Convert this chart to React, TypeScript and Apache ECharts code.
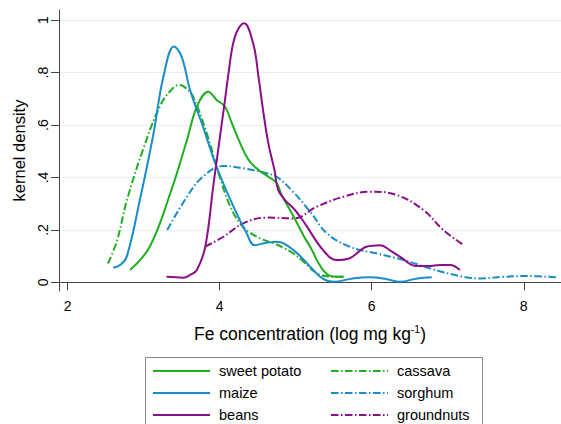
import React, { useEffect, useRef } from "react";
import * as echarts from "echarts";

const xTicks = [2, 4, 6, 8];
const yTicks = [0, 0.2, 0.4, 0.6, 0.8, 1];

const sweetPotato = [
  [2.82, 0.047], [3.08, 0.136], [3.35, 0.34], [3.57, 0.543], [3.7, 0.67], [3.85, 0.727],
  [3.96, 0.696], [4.07, 0.67], [4.16, 0.607], [4.27, 0.53], [4.38, 0.467], [4.51, 0.429],
  [4.64, 0.403], [4.75, 0.378], [4.82, 0.33], [4.95, 0.263], [5.1, 0.18], [5.19, 0.136],
  [5.36, 0.047], [5.5, 0.022], [5.63, 0.021],
];
const maize = [
  [2.6, 0.056], [2.7, 0.068], [2.78, 0.1], [2.95, 0.314], [3.13, 0.569], [3.26, 0.785],
  [3.4, 0.9], [3.5, 0.86], [3.61, 0.734], [3.78, 0.594], [3.96, 0.44], [4.18, 0.29],
  [4.35, 0.19], [4.46, 0.142], [4.6, 0.15], [4.75, 0.155], [4.97, 0.123], [5.19, 0.06],
  [5.35, 0.015], [5.5, 0.002], [5.75, 0.015], [5.98, 0.019], [6.2, 0.012], [6.37, 0.002],
  [6.6, 0.015], [6.79, 0.019],
];
const beans = [
  [3.3, 0.021], [3.52, 0.018], [3.62, 0.03], [3.7, 0.047], [3.81, 0.136], [3.92, 0.378],
  [4.07, 0.696], [4.11, 0.785], [4.2, 0.937], [4.32, 0.988], [4.44, 0.912], [4.51, 0.785],
  [4.57, 0.658], [4.64, 0.53], [4.72, 0.429], [4.77, 0.352], [4.86, 0.314], [4.99, 0.276],
  [5.12, 0.225], [5.36, 0.123], [5.54, 0.085], [5.71, 0.092], [5.93, 0.136], [6.11, 0.142],
  [6.25, 0.12], [6.37, 0.098], [6.59, 0.062], [6.75, 0.062], [6.9, 0.066], [7.03, 0.066],
  [7.16, 0.047],
];
const cassava = [
  [2.53, 0.072], [2.65, 0.16], [2.78, 0.314], [2.99, 0.505], [3.21, 0.67], [3.35, 0.73],
  [3.47, 0.753], [3.56, 0.74], [3.65, 0.708], [3.83, 0.569], [4.0, 0.403], [4.14, 0.289],
  [4.28, 0.22], [4.4, 0.19], [4.55, 0.165], [4.71, 0.149], [4.85, 0.13], [4.97, 0.11],
  [5.1, 0.08], [5.28, 0.034], [5.45, 0.022], [5.63, 0.021],
];
const sorghum = [
  [3.31, 0.2], [3.57, 0.327], [3.78, 0.403], [4.05, 0.444], [4.31, 0.435], [4.62, 0.416],
  [4.75, 0.403], [4.95, 0.35], [5.19, 0.27], [5.41, 0.187], [5.71, 0.136], [6.07, 0.11],
  [6.42, 0.085], [6.77, 0.053], [7.16, 0.024], [7.43, 0.015], [7.73, 0.021], [8.04, 0.024],
  [8.43, 0.019],
];
const groundnuts = [
  [3.81, 0.136], [4.05, 0.174], [4.31, 0.225], [4.62, 0.247], [4.97, 0.244], [5.28, 0.289],
  [5.63, 0.327], [5.98, 0.346], [6.33, 0.333], [6.68, 0.276], [6.94, 0.2], [7.21, 0.142],
];

const GREEN = "#1fae1f";
const BLUE = "#1a8cc6";
const PURPLE = "#8a0e8a";
const DASHDOT = [7.5, 2.5, 1.5, 2.5];
const FONT = "Liberation Sans, Arial, Helvetica, sans-serif";

function line(name: string, data: number[][], color: string, dashed: boolean, z: number) {
  return {
    name,
    type: "line",
    data,
    smooth: 0.4,
    symbol: "none",
    z,
    color,
    lineStyle: { color, width: 2, type: dashed ? DASHDOT : "solid" },
  };
}

export default function App() {
  const ref = useRef<HTMLDivElement>(null);
  useEffect(() => {
    document.body.style.margin = "0";
    const chart = echarts.init(ref.current!, null, { renderer: "svg" });
    const legendText = { fontFamily: FONT, fontSize: 14.5, color: "#000", lineHeight: 16, padding: [0, 0, 0, 4] };
    const legendBase = {
      orient: "vertical",
      top: 363,
      padding: 0,
      itemWidth: 57,
      itemHeight: 16,
      itemGap: 6,
      itemStyle: { opacity: 0 },
      textStyle: legendText,
    };
    chart.setOption({
      animation: false,
      backgroundColor: "#fff",
      textStyle: { fontFamily: FONT },
      grid: { left: 59, right: 0, top: 10, bottom: 133, containLabel: false },
      xAxis: {
        type: "value",
        min: 1.886,
        max: 8.49,
        axisLine: { show: true, lineStyle: { color: "#444", width: 1 } },
        axisTick: { show: true, length: 8, customValues: xTicks, lineStyle: { color: "#444" } },
        axisLabel: { customValues: xTicks, margin: 8, fontSize: 14, color: "#000", fontFamily: FONT },
        splitLine: { show: false },
        name: "{a|Fe concentration (log mg kg}{sup|-1}{a|)}",
        nameLocation: "middle",
        nameGap: 32,
        nameTextStyle: {
          fontSize: 17.5,
          color: "#000",
          fontFamily: FONT,
          lineHeight: 21,
          rich: {
            a: { fontSize: 17.5, lineHeight: 21, fontFamily: FONT, color: "#000" },
            sup: { fontSize: 10.5, verticalAlign: "top", lineHeight: 21, fontFamily: FONT, color: "#000" },
          },
        },
      },
      yAxis: {
        type: "value",
        min: -0.033,
        max: 1.039,
        axisLine: { show: true, lineStyle: { color: "#444", width: 1 } },
        axisTick: { show: true, length: 8, customValues: yTicks, lineStyle: { color: "#444" } },
        axisLabel: {
          customValues: yTicks,
          rotate: 90,
          margin: 9,
          fontSize: 14,
          color: "#000",
          fontFamily: FONT,
          formatter: (v: number) => (v === 0 ? "0" : v === 1 ? "1" : String(v).replace(/^0/, "")),
        },
        splitLine: { show: true, lineStyle: { color: "#e6eff1", width: 1.2 } },
        name: "kernel density",
        nameLocation: "middle",
        nameRotate: 90,
        nameGap: 32,
        nameTextStyle: { fontSize: 16.5, color: "#000", fontFamily: FONT },
      },
      legend: [
        { ...legendBase, data: ["sweet potato", "maize", "beans"], left: 152 },
        { ...legendBase, data: ["cassava", "sorghum", "groundnuts"], left: 330 },
      ],
      graphic: [
        {
          type: "rect",
          z: -1,
          silent: true,
          shape: { x: 145.5, y: 357.5, width: 337, height: 80 },
          style: { fill: "#fff", stroke: "#8a8a8a", lineWidth: 1 },
        },
      ],
      series: [
        line("sweet potato", sweetPotato, GREEN, false, 3),
        line("maize", maize, BLUE, false, 3),
        line("beans", beans, PURPLE, false, 4),
        line("cassava", cassava, GREEN, true, 2),
        line("sorghum", sorghum, BLUE, true, 2),
        line("groundnuts", groundnuts, PURPLE, true, 2),
      ],
    });
    return () => chart.dispose();
  }, []);
  return <div ref={ref} style={{ width: 561, height: 424 }} />;
}
